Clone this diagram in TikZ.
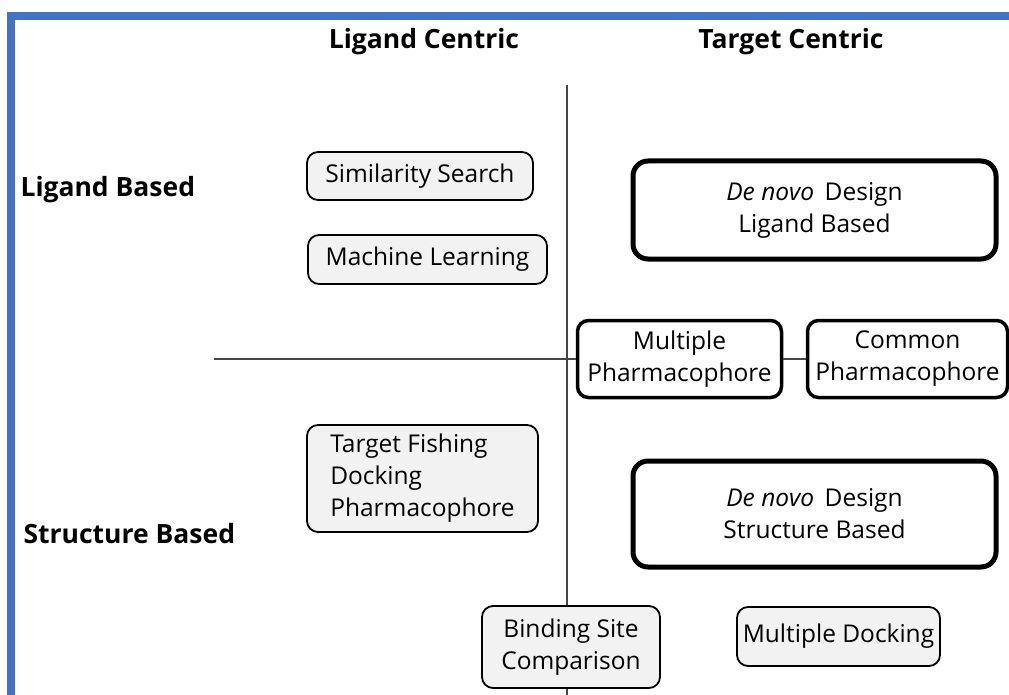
\documentclass[tikz,border=0pt]{standalone}
\usepackage{fontspec}
\setmainfont{Open Sans}
\usepackage{tikz}
\usetikzlibrary{positioning}
\definecolor{frameblue}{RGB}{68,114,196}
\definecolor{boxgray}{RGB}{242,242,242}
\definecolor{axisgray}{RGB}{70,70,70}

\begin{document}
\begin{tikzpicture}[x=1pt, y=-1pt,
    method/.style={draw=black, line width=1.8pt, rounded corners=11pt, fill=boxgray,
      inner sep=0pt, align=center, font=\fontsize{24.5}{32}\selectfont},
    pharma/.style={method, fill=white, line width=3.5pt},
    denovo/.style={method, fill=white, line width=5pt, rounded corners=15pt},
    axis/.style={axisgray, line width=1.8pt},
    header/.style={font=\fontsize{26.5}{30}\selectfont\bfseries}]
  \useasboundingbox (0,0) rectangle (1009,695);

  % Frame
  \fill[frameblue] (7,12) rectangle (1009,20);
  \fill[frameblue] (7,12) rectangle (15,695);

  % Headers
  \node[header] (lc) at (424,42) {Ligand Centric};
  \node[header] (tc) at (791,42) {Target Centric};
  \node[header, anchor=west] (lb) at (17,190) {Ligand Based};
  \node[header, anchor=west] (sb) at (20,534) {Structure Based};

  % Axes
  \coordinate (vtop) at (567,85);
  \coordinate (vbot) at (567,695);
  \coordinate (hleft) at (214,359);
  \draw[axis] (vtop) -- (vbot);

  % Ligand centric
  \node[method, minimum width=226pt, minimum height=48pt] (sim) at (420,176) {Similarity Search};
  \node[method, minimum width=239pt, minimum height=49pt] (ml) at (427.5,259.5) {Machine Learning};
  \node[method, minimum width=231pt, minimum height=107pt, align=left] (tfd) at (422.5,478.5)
    {Target Fishing\\Docking\\Pharmacophore};
  \node[method, minimum width=178pt, minimum height=82pt] (bsc) at (571,647) {Binding Site\\Comparison};

  % Target centric
  \node[denovo, minimum width=363pt, minimum height=98pt] (dnl) at (814.5,210)
    {\textit{De novo}\, Design\\Ligand Based};
  \node[pharma, minimum width=204pt, minimum height=77pt] (mph) at (679.5,359)
    {Multiple\\Pharmacophore};
  \node[pharma, minimum width=200pt, minimum height=77pt] (cph) at (907.5,359)
    {Common\\Pharmacophore};
  \node[denovo, minimum width=363pt, minimum height=106pt] (dns) at (814.5,514)
    {\textit{De novo}\, Design\\Structure Based};
  \node[method, minimum width=203pt, minimum height=59pt] (mdk) at (838.5,636.5) {Multiple Docking};

  % Links
  \draw[axis] (hleft) -- (mph.west);
  \draw[axis] (mph.east) -- (cph.west);
\end{tikzpicture}
\end{document}
